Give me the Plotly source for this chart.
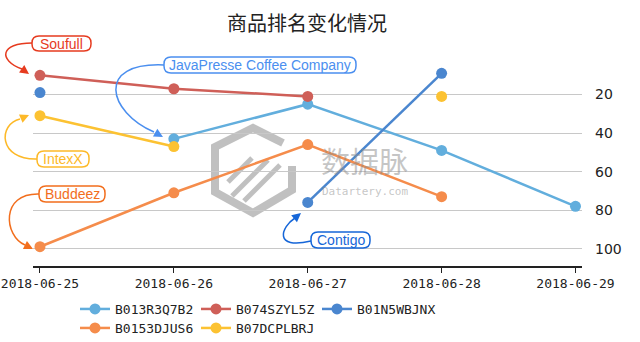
import plotly.graph_objects as go

# ---------------- data ----------------
dates = ["2018-06-25", "2018-06-26", "2018-06-27", "2018-06-28", "2018-06-29"]

B013R3Q7B2 = [None, 43, 25, 49, 78]
B074SZYL5Z = [10, 17, 21, None, None]
B01N5WBJNX = [19, None, 76, 9, None]
B0153DJUS6 = [99, 71, 46, 73, None]
B07DCPLBRJ = [31, 47, None, 21, None]

series_names = ["B013R3Q7B2", "B074SZYL5Z", "B01N5WBJNX", "B0153DJUS6", "B07DCPLBRJ"]
series_values = [B013R3Q7B2, B074SZYL5Z, B01N5WBJNX, B0153DJUS6, B07DCPLBRJ]
series_colors = ["#62AEDD", "#CF5F58", "#4A86CF", "#F58C4B", "#FCC232"]
series_legend = ["legend", "legend", "legend", "legend2", "legend2"]

y_ticks = [20, 40, 60, 80, 100]

label_texts = ["Soufull", "JavaPresse Coffee Company", "IntexX", "Buddeez", "Contigo"]
label_colors = ["#E63B1F", "#4B8FEF", "#FDB928", "#F26E1D", "#1666D8"]

# ---------------- layout helpers (pixel -> paper) ----------------
W, H = 640, 342
ML, MR, MT, MB = 33, 58, 56, 76
PW, PH = W - ML - MR, H - MT - MB


def px(x):
    return (x - ML) / PW


def py(y):
    return (H - MB - y) / PH


fig = go.Figure()

for name, vals, col, lg in zip(series_names, series_values, series_colors, series_legend):
    fig.add_trace(go.Scatter(
        x=dates, y=vals, name=name, mode="lines+markers",
        line=dict(color=col, width=2.5),
        marker=dict(color=col, size=11),
        connectgaps=False, legend=lg,
    ))

shapes = []
annotations = []


def text_ann(text, x, y, font):
    return dict(text=text, x=px(x), y=py(y), xref="paper", yref="paper",
                xanchor="center", yanchor="middle", showarrow=False, font=font)


# ---- watermark (logo + text) ----
wm = "rgba(140,140,140,0.55)"
hexpts = [(283, 143), (253, 128), (215, 147), (215, 192), (253, 213), (292, 190), (292, 166)]
path = "M " + " L ".join(f"{px(a)},{py(b)}" for a, b in hexpts)
shapes.append(dict(type="path", path=path, xref="paper", yref="paper",
                   line=dict(color=wm, width=8), layer="below"))
for (a1, b1, a2, b2) in [(232, 196, 268, 160), (244, 201, 280, 165), (228, 182, 252, 158)]:
    shapes.append(dict(type="path", path=f"M {px(a1)},{py(b1)} L {px(a2)},{py(b2)}",
                       xref="paper", yref="paper", line=dict(color=wm, width=5), layer="below"))
annotations.append(text_ann("数据脉", 364, 160,
                            dict(family="Noto Sans CJK SC", size=29, color="rgba(140,140,140,0.5)")))
annotations.append(text_ann("Datartery.com", 365, 192,
                            dict(family="DejaVu Sans Mono", size=11, color="rgba(140,140,140,0.5)")))

# ---- label boxes (rounded) ----
boxes = [(32, 36, 91, 51), (164, 57, 356, 73), (37, 151, 89, 167), (39, 186, 105, 202), (311, 232, 370, 248)]


def rounded(x0, y0, x1, y1, r):
    p = [
        f"M {px(x0 + r)},{py(y0)}",
        f"L {px(x1 - r)},{py(y0)}",
        f"Q {px(x1)},{py(y0)} {px(x1)},{py(y0 + r)}",
        f"L {px(x1)},{py(y1 - r)}",
        f"Q {px(x1)},{py(y1)} {px(x1 - r)},{py(y1)}",
        f"L {px(x0 + r)},{py(y1)}",
        f"Q {px(x0)},{py(y1)} {px(x0)},{py(y1 - r)}",
        f"L {px(x0)},{py(y0 + r)}",
        f"Q {px(x0)},{py(y0)} {px(x0 + r)},{py(y0)} Z",
    ]
    return " ".join(p)


# ---- curved connectors: (bezier in pixels), arrow tip ----
curves = [
    ((32, 43), (0, 43), (-2, 60), (22, 69), (29, 74)),
    ((164, 65), (95, 62), (108, 112), (154, 132), (163, 137)),
    ((37, 159), (-2, 160), (-2, 124), (20, 119), (29, 115)),
    ((39, 194), (0, 193), (4, 236), (25, 245), (33, 249)),
    ((311, 241), (273, 250), (281, 227), (295, 218), (301, 213)),
]

for text, col, (x0, y0, x1, y1), (p0, c1, c2, p3, tip) in zip(label_texts, label_colors, boxes, curves):
    shapes.append(dict(type="path", path=rounded(x0, y0, x1, y1, 7), xref="paper", yref="paper",
                       line=dict(color=col, width=1.5), fillcolor="white", layer="above"))
    annotations.append(text_ann(text, (x0 + x1) / 2, (y0 + y1) / 2,
                                dict(family="Liberation Sans", size=14, color=col)))
    cpath = (f"M {px(p0[0])},{py(p0[1])} C {px(c1[0])},{py(c1[1])} "
             f"{px(c2[0])},{py(c2[1])} {px(p3[0])},{py(p3[1])}")
    shapes.append(dict(type="path", path=cpath, xref="paper", yref="paper",
                       line=dict(color=col, width=1.5), layer="above"))
    annotations.append(dict(text="", x=px(tip[0]), y=py(tip[1]), xref="paper", yref="paper",
                            showarrow=True, ax=p3[0] - tip[0], ay=p3[1] - tip[1],
                            arrowhead=2, arrowsize=1.2, arrowwidth=1.5, arrowcolor=col))

# title
annotations.append(text_ann("商品排名变化情况", 307, 23,
                            dict(family="Noto Sans CJK SC", size=20, color="#222")))

fig.update_layout(
    width=W, height=H,
    margin=dict(l=ML, r=MR, t=MT, b=MB, autoexpand=False),
    plot_bgcolor="white", paper_bgcolor="white",
    shapes=shapes, annotations=annotations,
    xaxis=dict(
        type="date", range=["2018-06-24 22:45", "2018-06-29 01:10"],
        tickvals=dates, ticktext=dates, showgrid=False, zeroline=False,
        showline=True, linecolor="#222", linewidth=1.5,
        ticks="outside", ticklen=5, tickcolor="#222",
        tickfont=dict(family="DejaVu Sans Mono", size=13, color="#222"),
    ),
    yaxis=dict(
        range=[109, 0], side="right", tickvals=y_ticks,
        showgrid=True, gridcolor="#C8C8C8", gridwidth=1.2,
        zeroline=False, showline=False, ticks="",
        ticklabelstandoff=12,
        tickfont=dict(family="DejaVu Sans", size=14, color="#222"),
    ),
    legend=dict(orientation="h", x=px(75), y=py(309), xanchor="left", yanchor="middle",
                entrywidth=76, entrywidthmode="pixels",
                font=dict(family="DejaVu Sans Mono", size=13, color="#222"), bgcolor="rgba(0,0,0,0)"),
    legend2=dict(orientation="h", x=px(75), y=py(328), xanchor="left", yanchor="middle",
                 entrywidth=76, entrywidthmode="pixels",
                 font=dict(family="DejaVu Sans Mono", size=13, color="#222"), bgcolor="rgba(0,0,0,0)"),
)

fig.write_html("out.html")
